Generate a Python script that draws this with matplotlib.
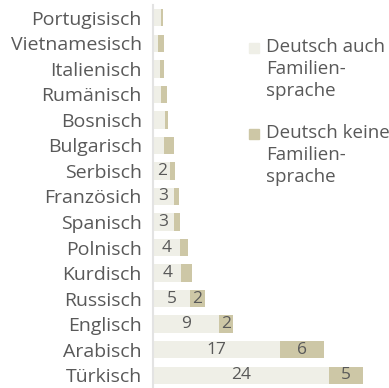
import matplotlib
matplotlib.use("Agg")
import matplotlib.pyplot as plt
from matplotlib.patches import Rectangle
import numpy as np

plt.rcParams["font.family"] = ["Open Sans", "DejaVu Sans"]

# Anteile (in %) je Herkunftssprache
sprachen = ["Portugisisch", "Vietnamesisch", "Italienisch", "Rumänisch", "Bosnisch",
            "Bulgarisch", "Serbisch", "Französich", "Spanisch", "Polnisch",
            "Kurdisch", "Russisch", "Englisch", "Arabisch", "Türkisch"]
deutsch_auch = [1.1, 0.7, 0.9, 1.1, 1.7, 1.5, 2.4, 2.9, 2.9, 3.7, 3.9, 5.1, 9.0, 17.4, 24.2]
deutsch_keine = [0.3, 0.8, 0.6, 0.8, 0.4, 1.4, 0.6, 0.6, 0.8, 1.1, 1.4, 2.0, 2.0, 6.1, 4.6]
legende = ["Deutsch auch\nFamilien-\nsprache", "Deutsch keine\nFamilien-\nsprache"]

HELL = "#efefe7"
DUNKEL = "#cdc7a6"
TEXT = "#595959"

fig = plt.figure(figsize=(3.89, 3.88), dpi=100)
ax = fig.add_axes([153 / 389, 0.0, 215 / 389, 383 / 388])

y = np.arange(len(sprachen))
b1 = ax.barh(y, deutsch_auch, height=0.68, color=HELL)
b2 = ax.barh(y, deutsch_keine, left=deutsch_auch, height=0.68, color=DUNKEL)

# Werte ab 2 % in die Segmente schreiben
for bars, werte in ((b1, deutsch_auch), (b2, deutsch_keine)):
    ax.bar_label(bars, labels=[f"{w:.0f}" if w >= 2 else "" for w in werte],
                 label_type="center", fontsize=12.5, color=TEXT)

ax.set_yticks(y)
ax.set_yticklabels(sprachen, fontsize=14, color=TEXT)
ax.set_ylim(len(sprachen) - 0.5, -0.5)
ax.set_xlim(0, 29.5)
ax.set_xticks([])
ax.tick_params(axis="y", length=0, pad=8)
for s in ("top", "right", "bottom"):
    ax.spines[s].set_visible(False)
ax.spines["left"].set_color("#e3e3e3")
ax.spines["left"].set_linewidth(1.5)

# Legende: Quadrat neben der ersten Zeile
for i, (farbe, text) in enumerate(zip([HELL, DUNKEL], legende)):
    top = 38 + i * 86
    fig.patches.append(Rectangle((249 / 389, 1 - (top + 15) / 388), 10 / 389, 10 / 388,
                                 transform=fig.transFigure, color=farbe))
    fig.text(266 / 389, 1 - top / 388, text, fontsize=13.5, color=TEXT,
             va="top", ha="left", linespacing=1.28)

fig.savefig("out.png", dpi=100)
